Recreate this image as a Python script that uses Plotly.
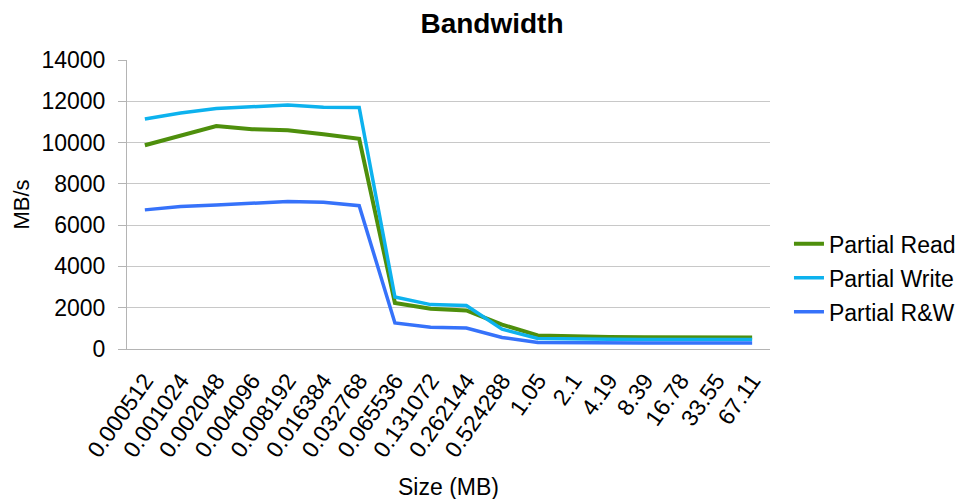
import plotly.graph_objects as go

sizes = ["0.000512", "0.001024", "0.002048", "0.004096", "0.008192", "0.016384",
         "0.032768", "0.065536", "0.131072", "0.262144", "0.524288", "1.05", "2.1",
         "4.19", "8.39", "16.78", "33.55", "67.11"]
partial_read = [9870, 10330, 10800, 10650, 10600, 10400, 10180, 2230, 1950, 1870, 1180,
                660, 600, 580, 570, 565, 562, 562]
partial_write = [11140, 11430, 11650, 11750, 11820, 11710, 11700, 2520, 2150, 2110, 960,
                 510, 480, 470, 465, 465, 465, 465]
partial_rw = [6740, 6900, 6980, 7070, 7140, 7110, 6940, 1260, 1050, 1020, 560,
              320, 300, 295, 290, 290, 290, 290]

font = "Liberation Sans, Arial, sans-serif"
fig = go.Figure()
fig.add_trace(go.Scatter(x=sizes, y=partial_read, mode="lines", name="Partial Read",
                         legendgroup="r", line=dict(color="#4E8F0C", width=4)))
fig.add_trace(go.Scatter(x=sizes, y=partial_write, mode="lines", name="Partial Write",
                         legendgroup="w", line=dict(color="#0DB2EE", width=3.5)))
fig.add_trace(go.Scatter(x=sizes, y=partial_rw, mode="lines", name="Partial R&W",
                         legendgroup="rw", line=dict(color="#3672FA", width=3.5)))

fig.update_layout(
    width=968, height=499,
    margin=dict(l=119, r=206, t=52, b=158),
    paper_bgcolor="white", plot_bgcolor="white",
    font=dict(family=font, size=22, color="#000000"),
    title=dict(text="<b>Bandwidth</b>", x=0.5, xanchor="center", y=0.97, yanchor="middle",
               font=dict(size=28, family=font)),
    legend=dict(x=1.0295, y=0.246, xanchor="left", yanchor="middle", font=dict(size=23),
                tracegroupgap=1, itemwidth=30),
    showlegend=True,
    annotations=[
        dict(text="Size (MB)", xref="paper", yref="paper", x=0.5, y=-0.4775,
             xanchor="center", yanchor="middle", showarrow=False, font=dict(size=23)),
        dict(text="MB/s", xref="paper", yref="paper", x=-0.1633, y=0.5,
             xanchor="center", yanchor="middle", showarrow=False, textangle=-90,
             font=dict(size=22)),
    ],
)
fig.update_xaxes(
    type="category", range=[-0.5, 17.5], tickangle=-55, automargin=False,
    showline=True, linecolor="#b4b4b4", linewidth=1, showgrid=False,
    ticks="", tickfont=dict(size=23), ticklabelstandoff=8,
)
fig.update_yaxes(
    range=[0, 14000], dtick=2000, tickformat="d", automargin=False,
    showgrid=True, gridcolor="#c8c8c8", gridwidth=1,
    showline=True, linecolor="#b4b4b4", linewidth=1, ticks="outside", ticklen=8,
    tickcolor="#b4b4b4", zeroline=False,
    tickfont=dict(size=23), ticklabelstandoff=8,
)
fig.write_html("out.html")
